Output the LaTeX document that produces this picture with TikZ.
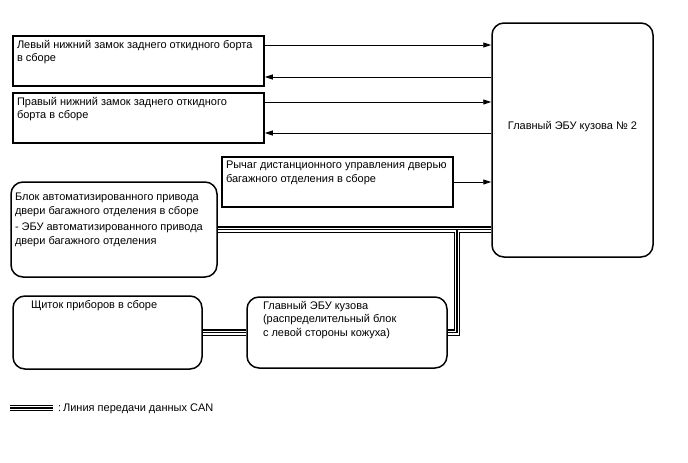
\documentclass[tikz,border=0pt]{standalone}
\usepackage{fontspec}
\setmainfont{Liberation Sans}
\usetikzlibrary{arrows.meta}
\newcommand\tbox[3]{\parbox[c][#2][t]{#1}{\raggedright #3}}
\tikzset{
  sqbox/.style={draw, line width=1.5pt, inner sep=4pt, anchor=center},
  rndbox/.style={sqbox, rounded corners=12pt},
  arr/.style={line width=0.9pt, -{Triangle[length=8pt,width=5pt]}},
  canA/.style={line width=6.5pt, draw=black},
  canB/.style={line width=4pt, draw=white},
  canC/.style={line width=1.5pt, draw=black},
}
\begin{document}
\begin{tikzpicture}[x=1pt,y=-1pt,font=\fontsize{11}{13.7}\selectfont]
\useasboundingbox[fill=white] (0,0) rectangle (688,463);

\node[sqbox] (b1) at (138.5,61) {\tbox{243pt}{42pt}{Левый нижний замок заднего откидного борта\\в сборе}};
\node[sqbox] (b2) at (138.5,118) {\tbox{243pt}{42pt}{Правый нижний замок заднего откидного\\борта в сборе}};
\node[sqbox] (b3) at (337.5,182) {\tbox{223pt}{42pt}{Рычаг дистанционного управления дверью\\багажного отделения в сборе}};
\node[rndbox] (ecu) at (572.5,140) {\parbox[c][226pt][t]{153pt}{\centering\vspace*{94pt}Главный ЭБУ кузова № 2}};
\node[rndbox] (b4) at (114,229.5) {\tbox{198pt}{87pt}{\vspace*{7pt}Блок автоматизированного привода\\двери багажного отделения в сборе\par\vspace{3pt}- ЭБУ автоматизированного привода\\двери багажного отделения}};
\node[rndbox] (b5) at (107.5,332.5) {\tbox{181pt}{65pt}{\hspace*{14pt}Щиток приборов в сборе}};
\node[rndbox] (b6) at (347,332.5) {\tbox{192pt}{63pt}{\hspace*{12pt}Главный ЭБУ кузова\\\hspace*{12pt}(распределительный блок\\\hspace*{12pt}с левой стороны кожуха)}};

% arrows
\draw[arr] ([yshift=16pt]b1.east) -- ([yshift=16pt]b1.east -| ecu.west);
\draw[arr] ([yshift=-16pt]b1.east -| ecu.west) -- ([yshift=-16pt]b1.east);
\draw[arr] ([yshift=16pt]b2.east) -- ([yshift=16pt]b2.east -| ecu.west);
\draw[arr] ([yshift=-15pt]b2.east -| ecu.west) -- ([yshift=-15pt]b2.east);
\draw[arr] (b3.east) -- (b3.east -| ecu.west);

% CAN lines
\coordinate (j) at (457,229.5);
\coordinate (k) at (457,332.5);
\foreach \s in {canA,canB,canC}{
  \draw[\s] (b4.east) -- (b4.east -| ecu.west);
  \draw[\s] (j) -- (k) -- (b6.east);
  \draw[\s] (b5.east) -- (b6.west);
}

% legend
\coordinate (l1) at (10,408);
\coordinate (l2) at (53,408);
\foreach \s in {canA,canB,canC}{\draw[\s] (l1) -- (l2);}
\node[anchor=west, inner sep=0pt, font=\fontsize{11}{13}\selectfont] (leg) at (58,409) {:\,Линия передачи данных CAN};
\end{tikzpicture}
\end{document}
